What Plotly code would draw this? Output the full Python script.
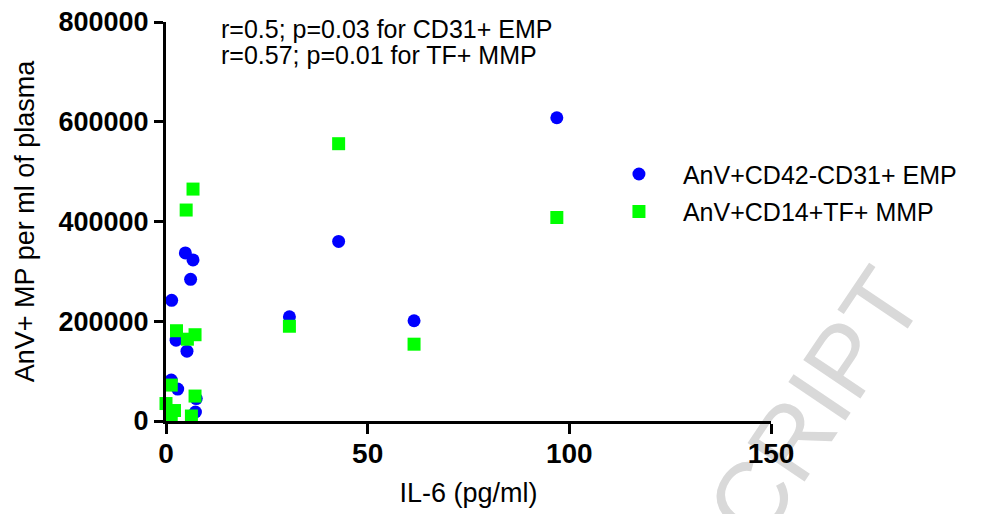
import plotly.graph_objects as go

# IL-6 (pg/ml) vs AnV+ MP per ml of plasma
emp_il6 = [96.9, 42.8, 30.6, 61.5, 4.8, 6.7, 6.1, 1.4, 2.5, 5.2, 1.3, 2.9, -1.0, 7.5, 7.3]
emp_mp = [608000, 360000, 209000, 201000, 337000, 323000, 284000, 242000, 162000, 140000, 82000, 64000, 18000, 45000, 18000]

mmp_il6 = [42.8, 96.9, 30.6, 61.5, 6.7, 5.0, 2.6, 5.3, 7.2, 1.3, 7.2, 0.0, 2.1, 6.3, 1.3]
mmp_mp = [556000, 408000, 190000, 154000, 465000, 423000, 181000, 164000, 173000, 72000, 50000, 35000, 21000, 10000, 11000]

series_names = ["AnV+CD42-CD31+ EMP", "AnV+CD14+TF+ MMP"]
x_ticks = [0, 50, 100, 150]
y_ticks = [0, 200000, 400000, 600000, 800000]
stat_lines = ["r=0.5; p=0.03 for CD31+ EMP", "r=0.57; p=0.01 for TF+ MMP"]

FONT = "Arial, Liberation Sans, sans-serif"

fig = go.Figure()
fig.add_trace(go.Scatter(
    x=emp_il6, y=emp_mp, mode="markers", name=series_names[0],
    legendgroup="a",
    marker=dict(symbol="circle", size=13, color="#0000FF", line=dict(width=0)),
    cliponaxis=False,
))
fig.add_trace(go.Scatter(
    x=mmp_il6, y=mmp_mp, mode="markers", name=series_names[1],
    legendgroup="b",
    marker=dict(symbol="square", size=13, color="#00FF00", line=dict(width=0)),
    cliponaxis=False,
))

fig.update_layout(
    width=989, height=514,
    margin=dict(l=158, r=226, t=14, b=101, autoexpand=False),
    paper_bgcolor="white",
    plot_bgcolor="rgba(0,0,0,0)",
    font=dict(family=FONT, color="black"),
    showlegend=True,
    legend=dict(
        x=0.709, xanchor="left", y=0.676, yanchor="top",
        font=dict(size=25, family=FONT, color="black"),
        itemwidth=78, tracegroupgap=2,
        bgcolor="rgba(0,0,0,0)",
    ),
    xaxis=dict(
        range=[0, 150], tickvals=x_ticks, ticktext=[str(v) for v in x_ticks],
        showline=True, linecolor="black", linewidth=3,
        ticks="outside", ticklen=10, tickwidth=3, tickcolor="black",
        showgrid=False, zeroline=False, ticklabelstandoff=-5,
        ticklabeloverflow="allow",
        tickfont=dict(size=28, family=FONT, color="black", weight="bold"),
        title=dict(text="IL-6 (pg/ml)", font=dict(size=27, family=FONT, color="black"), standoff=16),
    ),
    yaxis=dict(
        range=[0, 800000], tickvals=y_ticks, ticktext=[str(v) for v in y_ticks],
        showline=True, linecolor="black", linewidth=3,
        ticks="outside", ticklen=9, tickwidth=3, tickcolor="black",
        showgrid=False, zeroline=False, ticklabeloverflow="allow",
        tickfont=dict(size=27, family=FONT, color="black", weight="bold"),
        title=dict(text="AnV+ MP per ml of plasma", font=dict(size=27, family=FONT, color="black"), standoff=17),
    ),
)

fig.add_annotation(
    xref="paper", yref="paper", x=0.087, y=1.0 + (22 - 29) / 399.0,
    xanchor="left", yanchor="middle", showarrow=False,
    text=stat_lines[0], font=dict(size=25, family=FONT, color="black"),
)
fig.add_annotation(
    xref="paper", yref="paper", x=0.087, y=1.0 + (22 - 55) / 399.0,
    xanchor="left", yanchor="middle", showarrow=False,
    text=stat_lines[1], font=dict(size=25, family=FONT, color="black"),
)

# watermark, drawn beneath the data
wx, wy = 0.628, -0.915
fig.add_shape(
    type="rect", xref="paper", yref="paper", layer="below",
    x0=wx - 0.01, x1=wx + 0.01, y0=wy - 0.01, y1=wy + 0.01,
    line=dict(width=0), fillcolor="rgba(0,0,0,0)",
    label=dict(text="ACCEPTED MANUSCRIPT", textangle=-56, textposition="middle center",
               font=dict(size=100, family=FONT, color="#d9d9d9")),
)

fig.write_html("out.html")
